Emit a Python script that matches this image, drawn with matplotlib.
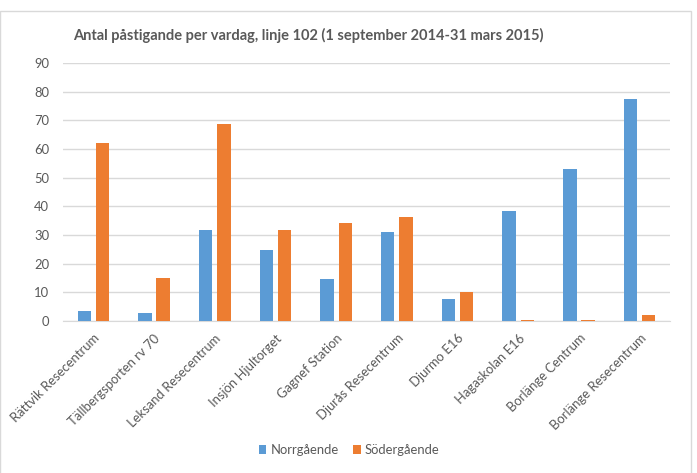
"""
antal pastigande per vardag, linje 102
grouped bar chart
"""
import numpy as np
import matplotlib.pyplot as plt
from matplotlib.patches import Rectangle

stops = ['Rättvik Resecentrum', 'Tällbergsporten rv 70', 'Leksand Resecentrum',
         'Insjön Hjultorget', 'Gagnef Station', 'Djurås Resecentrum',
         'Djurmo E16', 'Hagaskolan E16', 'Borlänge Centrum',
         'Borlänge Resecentrum']
norr = [3.5, 2.7, 31.7, 24.6, 14.6, 30.9, 7.6, 38.2, 53.1, 77.3]
soder = [62.1, 14.9, 68.7, 31.8, 34.3, 36.3, 10.0, 0.4, 0.4, 2.0]
series = ['Norrgående', 'Södergående']
yticks = list(range(0, 100, 10))

plt.rcParams['font.family'] = ['Lato', 'DejaVu Sans']
grey = '#595959'


def main():
    fig = plt.figure(figsize=(6.97, 4.73), dpi=100)
    ax = fig.add_axes([63/697, 1 - 321/473, 607/697, 258/473])

    x = np.arange(len(stops))
    w = 0.22
    ax.bar(x - 0.15, norr, w, color='#5B9BD5', label=series[0], zorder=3)
    ax.bar(x + 0.15, soder, w, color='#ED7D31', label=series[1], zorder=3)

    ax.set_xlim(-0.5, len(stops) - 0.5)
    ax.set_ylim(0, 90)
    ax.set_yticks(yticks)
    ax.yaxis.grid(True, color='#D9D9D9', linewidth=1, zorder=0)
    ax.set_xticks(x)
    ax.set_xticklabels(stops, rotation=45, ha='right', rotation_mode='anchor')
    ax.tick_params(axis='both', length=0, colors=grey, labelsize=9.4)
    ax.tick_params(axis='x', pad=8)
    ax.tick_params(axis='y', pad=10)
    for s in ['top', 'right', 'left']:
        ax.spines[s].set_visible(False)
    ax.spines['bottom'].set_color('#D9D9D9')

    fig.text(308/697, 1 - 35/473,
             'Antal påstigande per vardag, linje 102 (1 september 2014-31 mars 2015)',
             ha='center', va='center', fontsize=10.5, fontweight='bold', color=grey)

    fig.legend(loc='center', bbox_to_anchor=(349/697, 1 - 450/473), ncol=2,
               frameon=False, fontsize=9.4, labelcolor=grey,
               handlelength=0.6, handleheight=0.6, columnspacing=1.1,
               handletextpad=0.3)

    fig.patches.append(Rectangle((0, -0.01), 691/697, 1 - 11/473 + 0.01,
                                 transform=fig.transFigure, fill=False,
                                 edgecolor='#D9D9D9', linewidth=1))
    fig.savefig('out.png', dpi=100)


if __name__ == '__main__':
    main()
